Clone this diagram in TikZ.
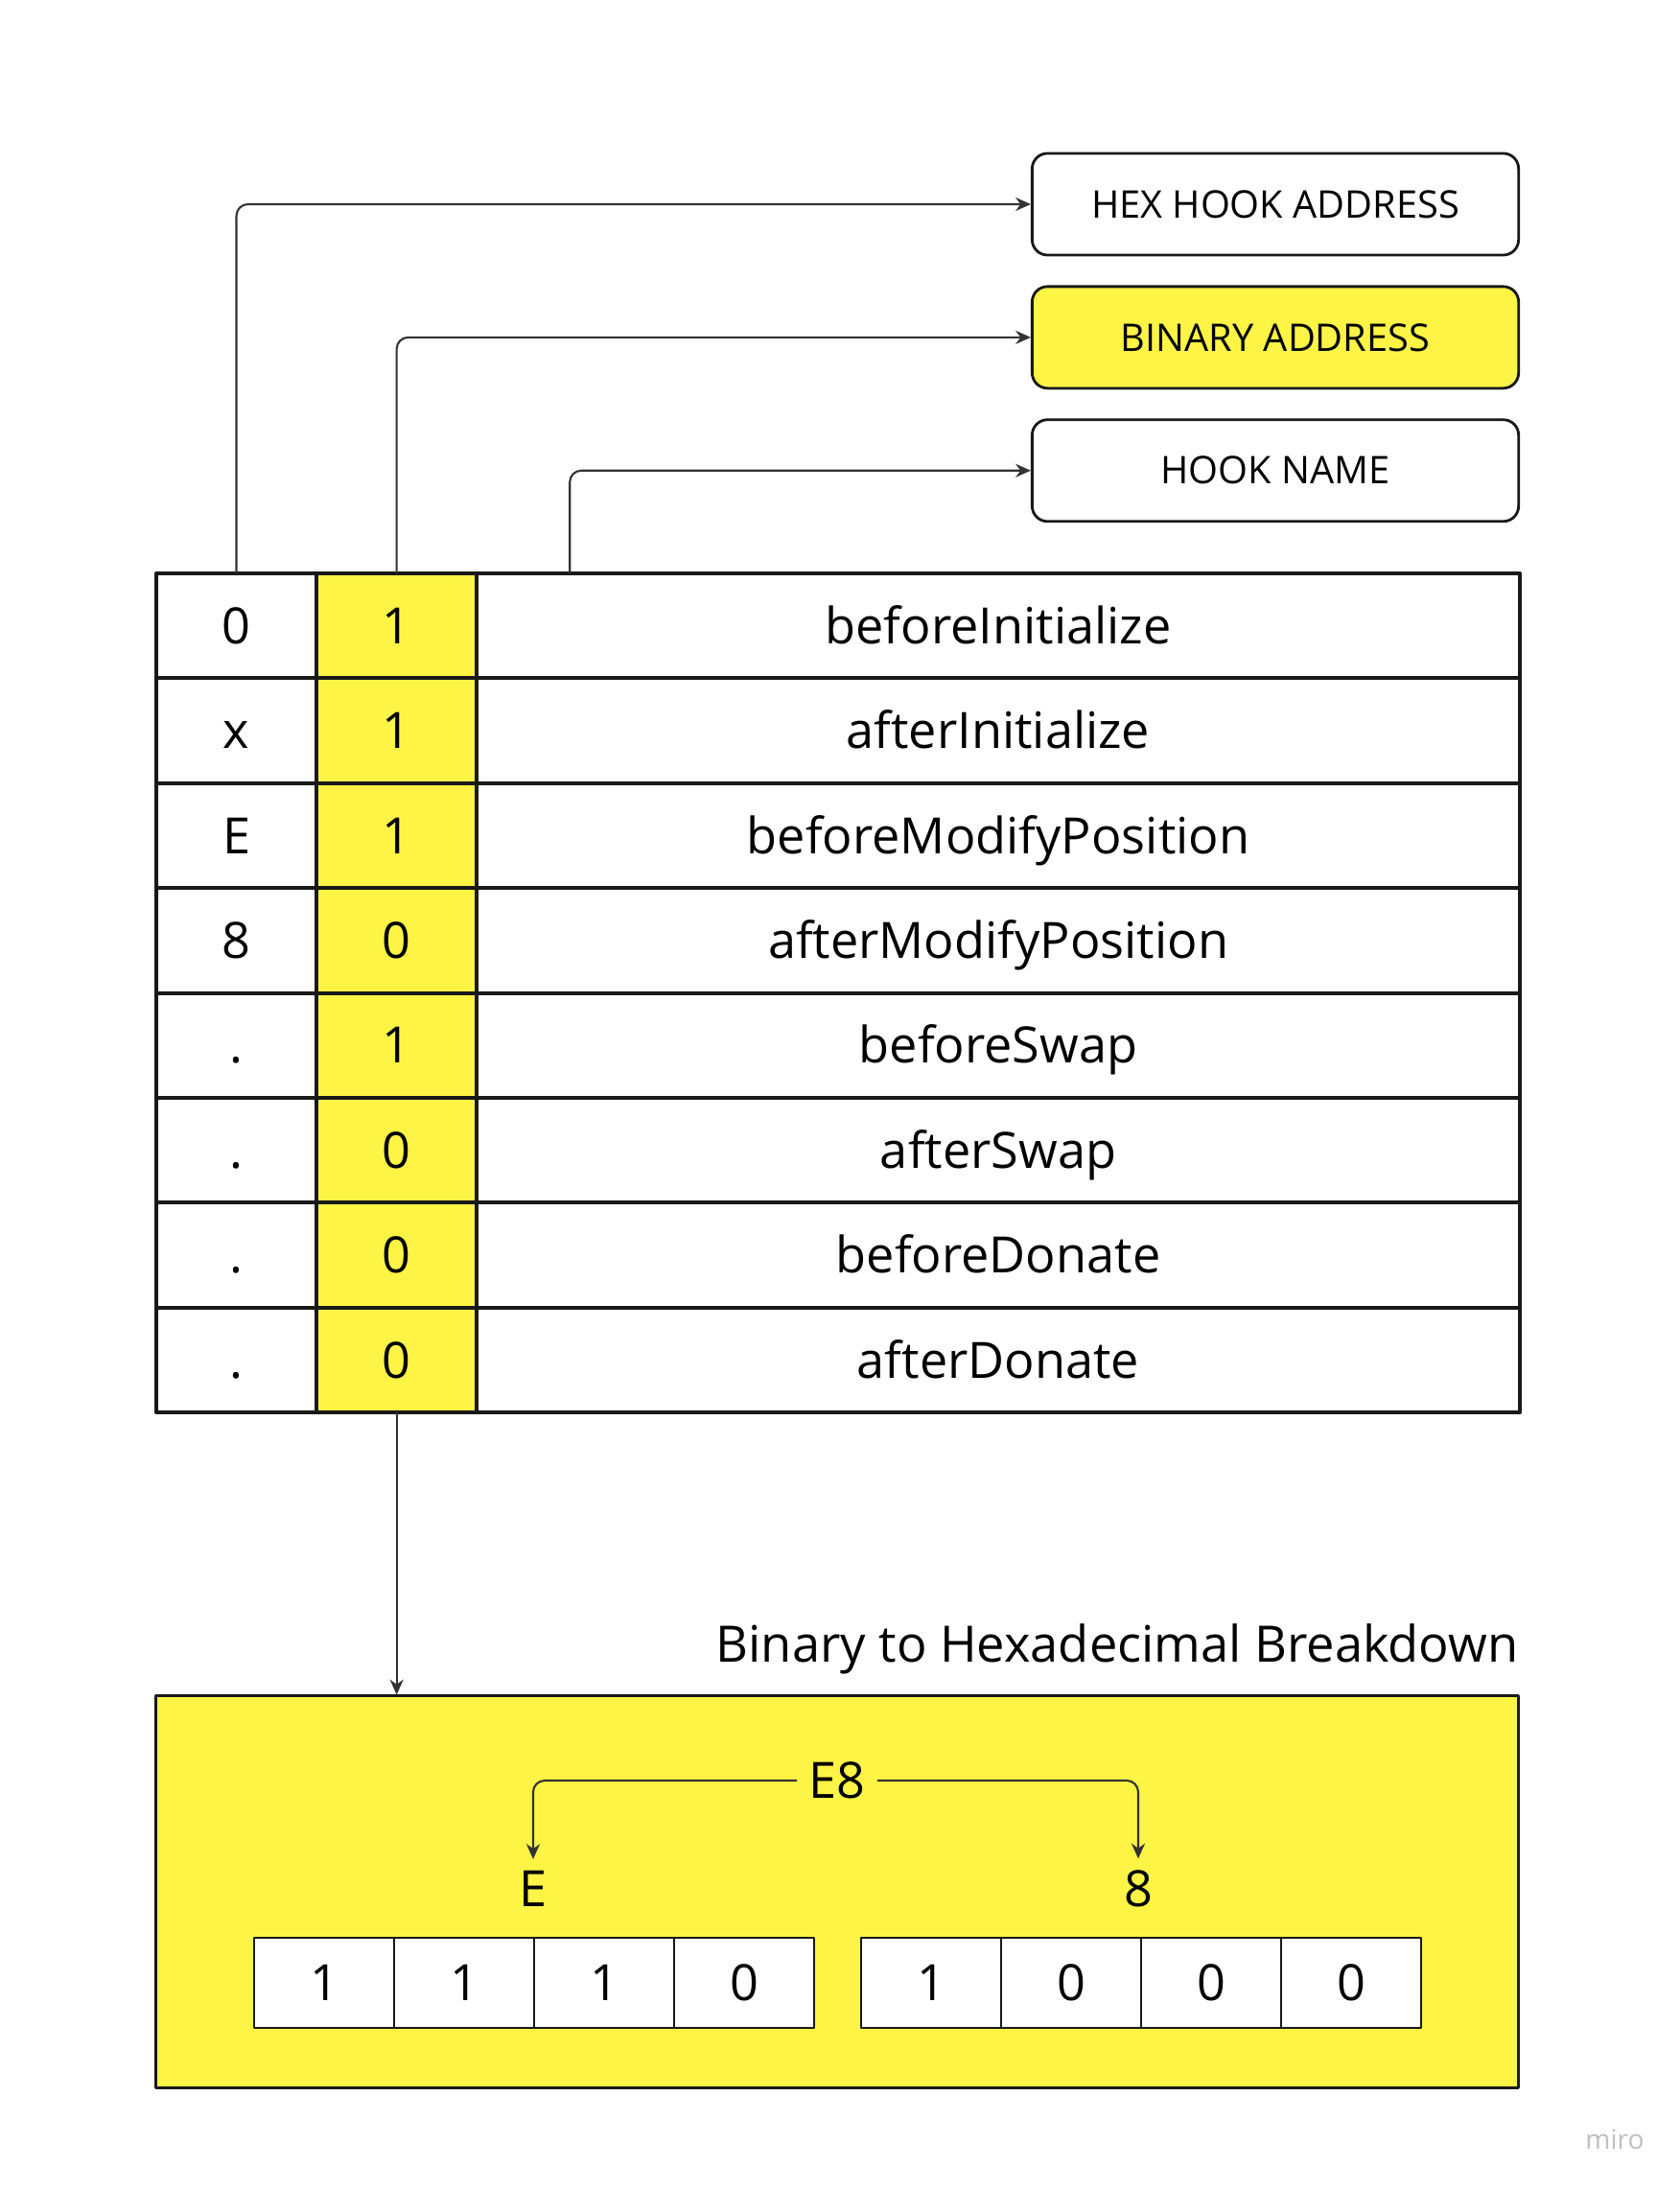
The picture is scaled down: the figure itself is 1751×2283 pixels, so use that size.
\documentclass[tikz,border=0pt]{standalone}
\usepackage{fontspec}
\setmainfont{Open Sans}
\usetikzlibrary{positioning,arrows.meta}
\definecolor{hookyellow}{HTML}{FEF445}
\definecolor{linegray}{HTML}{333333}
\begin{document}
\begin{tikzpicture}[x=0.01cm,y=-0.01cm,line join=round,>={Stealth[length=4.5pt,width=4pt]}]
	\tikzset{cell/.style={draw=black!90,line width=1.1pt,inner sep=0pt,outer sep=0pt,minimum height=10.94mm,text height=10.6pt,text depth=0pt,font=\fontsize{14.85}{17}\selectfont},
		hexcell/.style={cell,minimum width=16.7mm},
		bitcell/.style={cell,fill=hookyellow,minimum width=16.7mm},
		namecell/.style={cell,minimum width=108.7mm},
		fieldbox/.style={draw=black!90,line width=0.8pt,rounded corners=1.6mm,minimum width=50.7mm,minimum height=10.6mm,font=\fontsize{11.3}{13}\selectfont},
		bitbox/.style={draw=black!90,line width=0.8pt,fill=white,minimum width=14.6mm,minimum height=9.4mm,inner sep=0pt,text height=10.6pt,text depth=0pt,font=\fontsize{14.85}{17}\selectfont},
		link/.style={linegray,line width=0.6pt,rounded corners=1.2mm,->}}
	\useasboundingbox (0,0) rectangle (1751,2283);
	\node[fieldbox] (hexaddr) at (1330,213) {HEX HOOK ADDRESS};
	\node[fieldbox,fill=hookyellow,below=3mm of hexaddr] (binaddr) {BINARY ADDRESS};
	\node[fieldbox,below=3mm of binaddr] (hookname) {HOOK NAME};
	\foreach \hx/\bt/\nm [count=\i] in {0/1/beforeInitialize,x/1/afterInitialize,E/1/beforeModifyPosition,8/0/afterModifyPosition,./1/beforeSwap,./0/afterSwap,./0/beforeDonate,./0/afterDonate}{
		\node[hexcell,anchor=north west] (hex\i) at (163,{598+(\i-1)*109.4}) {\hx};
		\node[bitcell,right=0pt of hex\i] (bit\i) {\bt};
		\node[namecell,right=0pt of bit\i] (name\i) {\nm};
	}
	\draw[link] (hex1.north) |- (hexaddr.west);
	\draw[link] (bit1.north) |- (binaddr.west);
	\draw[link] ([xshift=9.7mm]name1.north west) |- (hookname.west);
	\node[draw=black!90,line width=0.8pt,fill=hookyellow,minimum width=142mm,minimum height=40.8mm] (breakdown) at (873,1973) {};
	\node[anchor=base east,inner sep=0pt,font=\fontsize{14.9}{17}\selectfont] (title) at (1584,1733) {Binary to Hexadecimal Breakdown};
	\draw[link] (bit8.south) -- (bit8.south |- breakdown.north);
	\node[font=\fontsize{14.85}{17}\selectfont] (hexpair) at (873,1857) {E8};
	\node[font=\fontsize{14.85}{17}\selectfont] (nibE) at (556,1970) {E};
	\node[font=\fontsize{14.85}{17}\selectfont] (nib8) at (1187,1970) {8};
	\draw[link] (hexpair.west) -| (nibE.north);
	\draw[link] (hexpair.east) -| (nib8.north);
	\foreach \b [count=\k] in {1,1,1,0}
		\node[bitbox] (hi\k) at ({192+146*\k},2068) {\b};
	\foreach \b [count=\k] in {1,0,0,0}
		\node[bitbox] (lo\k) at ({825+146*\k},2068) {\b};
	\node[text=black!25,font=\fontsize{8}{9}\selectfont] (brand) at (1684,2231) {miro};
\end{tikzpicture}
\end{document}
